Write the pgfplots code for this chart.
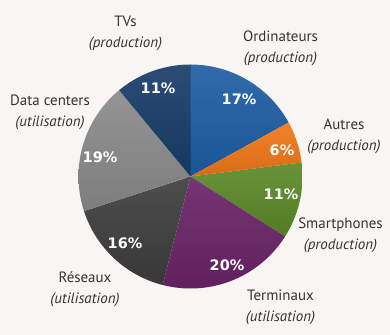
\documentclass[border=0pt]{standalone}
\usepackage{pgfplots}
\pgfplotsset{compat=1.18}
\usepackage{pgfplotstable}
\usepackage{fontspec}
\setmainfont{PT Sans}
\newfontfamily\pctfont{DejaVu Sans}

\definecolor{bg}{HTML}{F8F5F3}
\definecolor{lab}{HTML}{333333}
\definecolor{c0}{HTML}{1F5EA5}
\definecolor{c1}{HTML}{F07818}
\definecolor{c2}{HTML}{5B8A28}
\definecolor{c3}{HTML}{6A2468}
\definecolor{c4}{HTML}{3E3E3E}
\definecolor{c5}{HTML}{8B8B8B}
\definecolor{c6}{HTML}{183D69}

\pgfplotstableread{
name value
Ordinateurs 17
Autres 6
Smartphones 11
Terminaux 20
Reseaux 16
Datacenters 19
TVs 11
}\piedata

\begin{document}
\begin{tikzpicture}
\fill[bg] (0,0) rectangle (390bp,335bp);
\def\cum{0}
\pgfplotsforeachungrouped \i in {0,...,6}{%
  \pgfplotstablegetelem{\i}{value}\of\piedata
  \pgfmathsetmacro\s{90-3.6*\cum}%
  \pgfmathsetmacro\cumnew{\cum+\pgfplotsretval}%
  \pgfmathsetmacro\e{90-3.6*\cumnew}%
  \expandafter\xdef\csname sA\i\endcsname{\s}%
  \expandafter\xdef\csname eA\i\endcsname{\e}%
  \xdef\cum{\cumnew}%
}
\begin{axis}[at={(0,0)}, anchor=south west,
  width=390bp, height=335bp, scale only axis,
  xmin=0, xmax=390, ymin=0, ymax=335, hide axis, clip=false]
\pgfplotsinvokeforeach{0,...,6}{
  \shade[top color=c#1!92!white, bottom color=c#1!90!black] (axis cs:190.5,158.5) -- plot[domain=\csname sA#1\endcsname:\csname eA#1\endcsname, samples=80, variable=\t] ({190.5+112*cos(\t)},{158.5+112*sin(\t)}) -- cycle;
}
\begin{scope}[every node/.style={font=\pctfont\bfseries\fontsize{14.5}{17}\selectfont, text=white}]
\node at (axis cs:239,236) {17\%};
\node at (axis cs:282,185) {6\%};
\node at (axis cs:281,141) {11\%};
\node at (axis cs:227,70) {20\%};
\node at (axis cs:125,92) {16\%};
\node at (axis cs:100,178) {19\%};
\node at (axis cs:158,247) {11\%};
\end{scope}
\begin{scope}[every node/.style={align=center, font=\fontsize{15}{21}\selectfont, text=lab}]
\node at (axis cs:125.5,301.5) {TVs\\\textit{(production)}};
\node at (axis cs:280.5,286.5) {Ordinateurs\\\textit{(production)}};
\node at (axis cs:344,198.5) {Autres\\\textit{(production)}};
\node at (axis cs:340.5,99.5) {Smartphones\\\textit{(production)}};
\node at (axis cs:280.5,27.5) {Terminaux\\\textit{(utilisation)}};
\node at (axis cs:85,45.5) {Réseaux\\\textit{(utilisation)}};
\node at (axis cs:50,222.5) {Data centers\\\textit{(utilisation)}};
\end{scope}
\end{axis}
\end{tikzpicture}
\end{document}
